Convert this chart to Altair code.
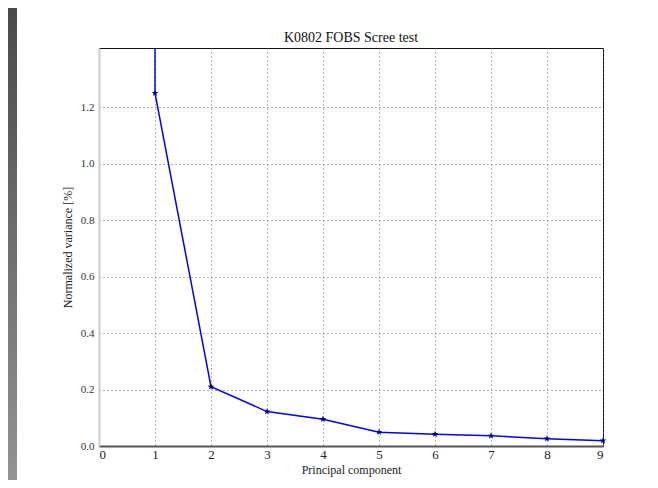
import altair as alt
import pandas as pd

# Data
title_text = "K0802 FOBS Scree test"
components = [1, 2, 3, 4, 5, 6, 7, 8, 9]
variance = [1.25, 0.21, 0.122, 0.095, 0.049, 0.042, 0.036, 0.026, 0.019]
# the trace enters from above the axes at component 1
trace_x = [1] + components
trace_y = [1.6] + variance

x_ticks = [0, 1, 2, 3, 4, 5, 6, 7, 8, 9]
y_ticks = [0.0, 0.2, 0.4, 0.6, 0.8, 1.0, 1.2]

pts = pd.DataFrame({"pc": components, "var": variance})
trace = pd.DataFrame({"pc": trace_x, "var": trace_y, "order": list(range(len(trace_x)))})

W, H = 504, 398
PL, PT, PR, PB = 91, 40, 47, 34
SERIF = "'Times New Roman', 'Liberation Serif', 'DejaVu Serif', serif"
STAR = ("M0,-1 L0.235,-0.324 L0.951,-0.309 L0.380,0.124 L0.588,0.809 L0,0.4 "
        "L-0.588,0.809 L-0.380,0.124 L-0.951,-0.309 L-0.235,-0.324 Z")

xs = alt.Scale(domain=[0, 9], nice=False, zero=False)
ys = alt.Scale(domain=[0, 1.41], nice=False, zero=True)

x_axis = alt.Axis(values=x_ticks, format="d", title="Principal component", orient="bottom",
                  labelFont=SERIF, labelFontSize=13, labelColor="#222",
                  titleFont=SERIF, titleFontSize=12, titleFontWeight="normal",
                  titleColor="#222", titlePadding=3, labelPadding=2,
                  ticks=False, grid=True, gridColor="#666", gridDash=[1, 3],
                  gridWidth=1, domainColor="#555", domainWidth=2)
y_axis = alt.Axis(values=y_ticks, format=".1f", title="Normalized variance [%]", orient="left",
                  labelFont=SERIF, labelFontSize=11, labelColor="#333",
                  titleFont=SERIF, titleFontSize=12, titleFontWeight="normal",
                  titleColor="#222", titlePadding=6, labelPadding=5,
                  ticks=False, grid=True, gridColor="#666", gridDash=[1, 3],
                  gridWidth=1, domainColor="#cccccc", domainWidth=2)

line = alt.Chart(trace).mark_line(color="#0000ff", strokeWidth=1.5, clip=True).encode(
    x=alt.X("pc:Q", scale=xs, axis=x_axis),
    y=alt.Y("var:Q", scale=ys, axis=y_axis),
    order="order:Q",
)

points = alt.Chart(pts).mark_point(shape=STAR, filled=True, size=50,
                                   color="#000088", opacity=1).encode(
    x=alt.X("pc:Q", scale=xs, axis=x_axis),
    y=alt.Y("var:Q", scale=ys, axis=y_axis),
)

side = alt.Chart(pts).mark_rect(
    color=alt.LinearGradient(gradient="linear",
                             stops=[alt.GradientStop(color="#4a4a4a", offset=0),
                                    alt.GradientStop(color="#939393", offset=1)],
                             x1=0, x2=0, y1=0, y2=1),
    clip=False,
).encode(x=alt.value(-PL), x2=alt.value(-PL + 9),
         y=alt.value(-PT), y2=alt.value(H + PB))

title = alt.Chart(pd.DataFrame({"t": [title_text]})).mark_text(
    font=SERIF, fontSize=14, color="#111", align="center", baseline="bottom",
).encode(x=alt.value(W / 2), y=alt.value(-3), text="t:N")

chart = alt.layer(line, points, side, title).properties(
    width=W, height=H,
    padding={"left": PL, "top": PT, "right": PR, "bottom": PB},
    autosize=alt.AutoSizeParams(type="none"),
    background="white",
).configure_view(stroke="#111", strokeWidth=1)

chart.save("out.html", embed_options={"renderer": "svg", "actions": False})
